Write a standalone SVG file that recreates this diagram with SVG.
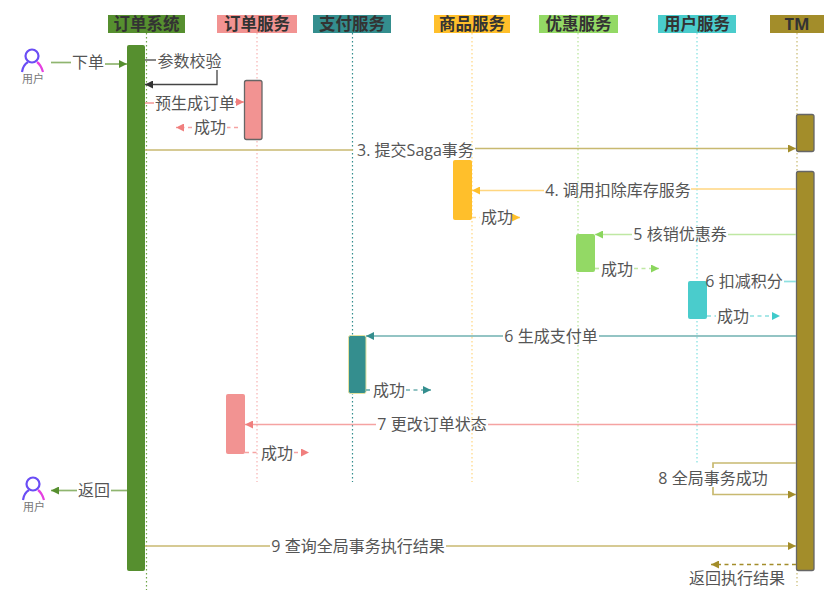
<svg xmlns="http://www.w3.org/2000/svg" width="840" height="605" viewBox="0 0 840 605">
<style>
text{font-family:"Open Sans","Noto Sans CJK SC","Noto Sans",sans-serif;font-size:16px;fill:#555}
.h{font-size:16.5px;font-weight:700;fill:#333;text-anchor:middle}
.u{font-size:11px;fill:#777;text-anchor:middle}
.c{text-anchor:middle}
line,path.m{fill:none;stroke-width:1.7}
.d{stroke-dasharray:4 3.5}
.ll{stroke-width:1.2;stroke-dasharray:1.5 2.5}
.green{stroke:#8fb56f}.pink{stroke:#f5a3a2}.teal{stroke:#6fb0b0}.yellow{stroke:#ffd680}.lg{stroke:#bfe8a3}.cy{stroke:#8de0e0}.ol{stroke:#c8b970}
.bk{fill:none;stroke:#444;stroke-width:1.3}
.pu{fill:none;stroke:#6a4df5;stroke-width:2.2}
.mg{fill:none;stroke:#e540e0;stroke-width:2.2}
</style>
<defs>
<marker id="ag" markerWidth="9" markerHeight="8" refX="8" refY="4" orient="auto" markerUnits="userSpaceOnUse"><path d="M0 0L8 4L0 8z" fill="#568f2f"/></marker>
<marker id="ak" markerWidth="9" markerHeight="8" refX="8" refY="4" orient="auto" markerUnits="userSpaceOnUse"><path d="M0 0L8 4L0 8z" fill="#333"/></marker>
<marker id="ap" markerWidth="9" markerHeight="8" refX="8" refY="4" orient="auto" markerUnits="userSpaceOnUse"><path d="M0 0L8 4L0 8z" fill="#f07f7e"/></marker>
<marker id="at" markerWidth="9" markerHeight="8" refX="8" refY="4" orient="auto" markerUnits="userSpaceOnUse"><path d="M0 0L8 4L0 8z" fill="#348e8e"/></marker>
<marker id="ay" markerWidth="9" markerHeight="8" refX="8" refY="4" orient="auto" markerUnits="userSpaceOnUse"><path d="M0 0L8 4L0 8z" fill="#ffbf2b"/></marker>
<marker id="al" markerWidth="9" markerHeight="8" refX="8" refY="4" orient="auto" markerUnits="userSpaceOnUse"><path d="M0 0L8 4L0 8z" fill="#8ad65c"/></marker>
<marker id="ac" markerWidth="9" markerHeight="8" refX="8" refY="4" orient="auto" markerUnits="userSpaceOnUse"><path d="M0 0L8 4L0 8z" fill="#3fcaca"/></marker>
<marker id="ao" markerWidth="9" markerHeight="8" refX="8" refY="4" orient="auto" markerUnits="userSpaceOnUse"><path d="M0 0L8 4L0 8z" fill="#a38d2a"/></marker>
<g id="person">
<circle cx="0" cy="-7" r="6.500" class="pu"/>
<path d="M-10 9Q-9 2 -4 -1" class="pu"/>
<path d="M5 -1Q9 2 11 9" class="mg"/>
</g>
</defs>

<g id="lifelines">
<line x1="146.500" y1="33" x2="146.500" y2="590" class="ll" style="stroke:#6fa548"/>
<line x1="257" y1="33" x2="257" y2="482" class="ll" style="stroke:#f7b3b2"/>
<line x1="352.500" y1="33" x2="352.500" y2="482" class="ll" style="stroke:#348e8e"/>
<line x1="472" y1="33" x2="472" y2="482" class="ll" style="stroke:#ffd680"/>
<line x1="578" y1="33" x2="578" y2="482" class="ll" style="stroke:#b5e596"/>
<line x1="697" y1="33" x2="697" y2="465" class="ll" style="stroke:#7fe0e0"/>
<line x1="797" y1="33" x2="797" y2="586" class="ll" style="stroke:#c8b970"/>
</g>

<g id="n-order-sys"><rect x="108" y="15" width="77" height="18" fill="#568f2f"/><text class="h" x="146.500" y="30">订单系统</text></g>
<g id="n-order-svc"><rect x="217" y="15" width="80" height="18" fill="#f29392"/><text class="h" x="257" y="30">订单服务</text></g>
<g id="n-pay-svc"><rect x="313" y="15" width="78" height="18" fill="#348e8e"/><text class="h" x="352" y="30">支付服务</text></g>
<g id="n-goods-svc"><rect x="434" y="15" width="76" height="18" fill="#ffbf2b"/><text class="h" x="472" y="30">商品服务</text></g>
<g id="n-promo-svc"><rect x="539" y="15" width="79" height="18" fill="#93d965"/><text class="h" x="578.500" y="30">优惠服务</text></g>
<g id="n-user-svc"><rect x="658" y="15" width="78" height="18" fill="#4acccc"/><text class="h" x="697" y="30">用户服务</text></g>
<g id="n-tm"><rect x="770" y="15" width="54" height="18" fill="#a38d2a"/><text class="h" x="797" y="30">TM</text></g>

<g id="n-user-top"><use href="#person" x="32" y="63"/><text class="u" x="33" y="83">用户</text></g>
<g id="n-user-bottom"><use href="#person" x="33" y="491"/><text class="u" x="34" y="511">用户</text></g>

<g id="activations">
<rect x="127" y="45" width="18" height="526" rx="2" fill="#568f2f"/>
<rect x="244.500" y="80.500" width="17.500" height="59" rx="2" fill="#f29392" stroke="#666" stroke-width="1.300"/>
<rect x="796.500" y="114.500" width="17.500" height="37" rx="2" fill="#a38d2a" stroke="#666" stroke-width="1.300"/>
<rect x="796.500" y="171.500" width="17.500" height="399" rx="2" fill="#a38d2a" stroke="#666" stroke-width="1.300"/>
<rect x="453" y="160" width="19" height="60" rx="2" fill="#ffbf2b"/>
<rect x="576" y="234" width="19" height="38" rx="2" fill="#93d965"/>
<rect x="688" y="281" width="19" height="38" rx="2" fill="#4acccc"/>
<rect x="348.500" y="335.500" width="17.500" height="58" rx="2" fill="#348e8e" stroke="#e4e2a0" stroke-width="1"/>
<rect x="226" y="394" width="19" height="60" rx="2" fill="#f29392"/>
</g>

<g id="connectors">
<line x1="51" y1="62.500" x2="71" y2="62.500" class="green"/>
<line x1="105" y1="64" x2="127" y2="64" class="green" marker-end="url(#ag)"/>
<path d="M145 60H156" class="bk"/>
<path d="M217 70V84.500H145" class="bk" marker-end="url(#ak)"/>
<line x1="145" y1="103" x2="154" y2="103" class="pink"/>
<line x1="235" y1="102" x2="244" y2="102" class="pink" marker-end="url(#ap)"/>
<line x1="238" y1="127.500" x2="227" y2="127.500" class="pink d"/>
<line x1="192" y1="127.500" x2="176" y2="127.500" class="pink d" marker-end="url(#ap)"/>
<line x1="145" y1="150" x2="353" y2="150" class="ol"/>
<line x1="475" y1="148.500" x2="796" y2="148.500" class="ol" marker-end="url(#ao)"/>
<line x1="796" y1="189" x2="691" y2="189" class="yellow"/>
<line x1="544" y1="190.500" x2="472" y2="190.500" class="yellow" marker-end="url(#ay)"/>
<line x1="472" y1="217.500" x2="480" y2="217.500" class="yellow d"/>
<line x1="513" y1="217.500" x2="520" y2="217.500" class="yellow" marker-end="url(#ay)"/>
<line x1="796" y1="234.500" x2="728" y2="234.500" class="lg"/>
<line x1="632" y1="234.500" x2="595" y2="234.500" class="lg" marker-end="url(#al)"/>
<line x1="595" y1="268.500" x2="600" y2="268.500" class="lg d"/>
<line x1="634" y1="268.500" x2="659" y2="268.500" class="lg d" marker-end="url(#al)"/>
<line x1="796" y1="281.500" x2="784" y2="281.500" class="cy"/>
<line x1="707" y1="316" x2="716" y2="316" class="cy d"/>
<line x1="750" y1="316" x2="780" y2="316" class="cy d" marker-end="url(#ac)"/>
<line x1="796" y1="336" x2="599" y2="336" class="teal"/>
<line x1="503" y1="336" x2="366" y2="336" class="teal" marker-end="url(#at)"/>
<line x1="366" y1="390" x2="372" y2="390" class="teal d"/>
<line x1="406" y1="390" x2="431" y2="390" class="teal d" marker-end="url(#at)"/>
<line x1="796" y1="424.500" x2="488" y2="424.500" class="pink"/>
<line x1="376" y1="424.500" x2="245" y2="424.500" class="pink" marker-end="url(#ap)"/>
<line x1="245" y1="452.500" x2="259" y2="452.500" class="pink d"/>
<line x1="294" y1="452.500" x2="309" y2="452.500" class="pink d" marker-end="url(#ap)"/>
<line x1="127" y1="490.500" x2="111" y2="490.500" class="green"/>
<line x1="77" y1="490.500" x2="51" y2="490.500" class="green" marker-end="url(#ag)"/>
<path d="M796 463H713V468" class="m ol"/>
<path d="M713 487V494.500H796" class="m ol" marker-end="url(#ao)"/>
<line x1="145" y1="546" x2="270" y2="546" class="ol"/>
<line x1="446" y1="546" x2="796" y2="546" class="ol" marker-end="url(#ao)"/>
<line x1="796" y1="564.500" x2="711" y2="564.500" class="d" style="stroke:#a38d2a" marker-end="url(#ao)"/>
</g>

<g id="labels">
<text class="c" x="88" y="68">下单</text>
<text class="c" x="189.500" y="67">参数校验</text>
<text class="c" x="195" y="109">预生成订单</text>
<text class="c" x="210" y="133">成功</text>
<text class="c" x="415.500" y="156">3. 提交Saga事务</text>
<text class="c" x="618" y="196">4. 调用扣除库存服务</text>
<text class="c" x="497" y="223">成功</text>
<text class="c" x="680" y="240">5 核销优惠券</text>
<text class="c" x="617" y="275">成功</text>
<text class="c" x="744" y="287">6 扣减积分</text>
<text class="c" x="733" y="322">成功</text>
<text class="c" x="551" y="342">6 生成支付单</text>
<text class="c" x="389" y="396">成功</text>
<text class="c" x="432" y="430">7 更改订单状态</text>
<text class="c" x="277" y="459">成功</text>
<text class="c" x="713" y="484">8 全局事务成功</text>
<text class="c" x="94" y="496">返回</text>
<text class="c" x="358" y="552">9 查询全局事务执行结果</text>
<text class="c" x="737" y="584">返回执行结果</text>
</g>
</svg>
